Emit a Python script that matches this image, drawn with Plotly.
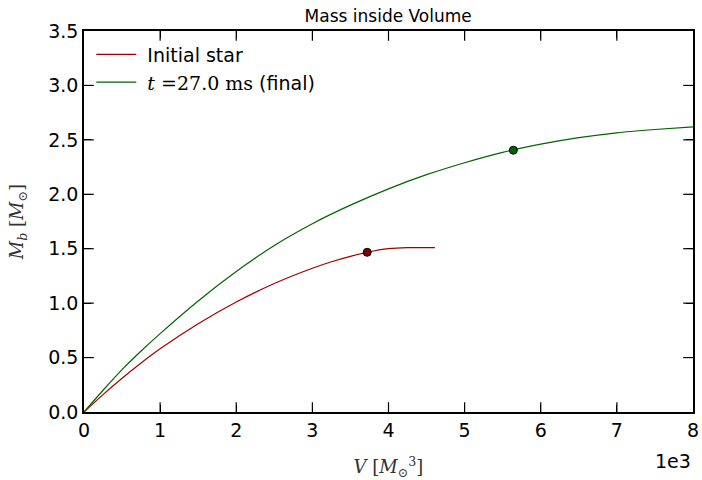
import plotly.graph_objects as go

# Data (V in units of 1e3 M_sun^3, M_b in M_sun)
green_x = [0, 0.25, 0.5, 0.75, 1.0, 1.5, 2.0, 2.5, 3.0, 3.5, 4.0, 4.5, 5.0, 5.5, 6.0, 6.5, 7.0, 7.5, 8.0]
green_y = [0, 0.20, 0.39, 0.56, 0.72, 1.02, 1.29, 1.53, 1.73, 1.90, 2.05, 2.18, 2.29, 2.385, 2.46, 2.52, 2.565, 2.595, 2.62]
red_x = [0, 0.25, 0.5, 0.75, 1.0, 1.5, 2.0, 2.5, 3.0, 3.25, 3.5, 3.72, 4.0, 4.25, 4.61]
red_y = [0, 0.16, 0.31, 0.45, 0.58, 0.81, 1.01, 1.18, 1.32, 1.38, 1.43, 1.467, 1.50, 1.51, 1.51]
red_marker = (3.72, 1.467)
green_marker = (5.64, 2.405)
x_ticks = [0, 1, 2, 3, 4, 5, 6, 7, 8]
y_ticks = [0.0, 0.5, 1.0, 1.5, 2.0, 2.5, 3.0, 3.5]
x_range = [0, 8]
y_range = [0, 3.5]

SERIF = "DejaVu Serif"
SANS = "DejaVu Sans"

fig = go.Figure()
fig.add_trace(go.Scatter(x=red_x, y=red_y, mode="lines",
                         line=dict(color="#a00000", width=1.2, shape="spline", smoothing=0.7),
                         name="\u00a0Initial star"))
fig.add_trace(go.Scatter(x=green_x, y=green_y, mode="lines",
                         line=dict(color="#006400", width=1.2, shape="spline", smoothing=0.7),
                         name='\u00a0<span style="font-family:DejaVu Serif"><i>t</i> =27.0 ms</span> (final)'))
fig.add_trace(go.Scatter(x=[red_marker[0]], y=[red_marker[1]], mode="markers", showlegend=False,
                         marker=dict(color="#800000", size=8, line=dict(color="black", width=1))))
fig.add_trace(go.Scatter(x=[green_marker[0]], y=[green_marker[1]], mode="markers", showlegend=False,
                         marker=dict(color="#006400", size=8, line=dict(color="black", width=1))))

# Inside tick marks on all four sides (clipped to the plot area, so only the inner half shows)
inner_x = x_ticks[1:-1]
inner_y = y_ticks[1:-1]
fig.add_trace(go.Scatter(x=inner_x + inner_x, y=[y_range[0]] * len(inner_x) + [y_range[1]] * len(inner_x),
                         mode="markers", showlegend=False, hoverinfo="skip", cliponaxis=True,
                         marker=dict(symbol="line-ns", size=14, line=dict(color="black", width=1.2))))
fig.add_trace(go.Scatter(x=[x_range[0]] * len(inner_y) + [x_range[1]] * len(inner_y), y=inner_y + inner_y,
                         mode="markers", showlegend=False, hoverinfo="skip", cliponaxis=True,
                         marker=dict(symbol="line-ew", size=14, line=dict(color="black", width=1.2))))

fig.update_layout(
    width=702, height=480,
    margin=dict(l=84, r=9, t=31, b=68),
    plot_bgcolor="white", paper_bgcolor="white",
    title=dict(text="Mass inside Volume", x=0.553, xanchor="center", y=0.967, yanchor="middle",
               font=dict(family=SANS, size=17, color="black")),
    legend=dict(x=0.012, y=0.988, xanchor="left", yanchor="top", bgcolor="rgba(0,0,0,0)",
                font=dict(family=SANS, size=19, color="black"), tracegroupgap=0, itemwidth=40),
    showlegend=True,
)
fig.update_xaxes(range=x_range, tickvals=x_ticks, tickformat="d", ticks="inside", ticklen=7, tickwidth=1.2,
                 tickcolor="black", showline=True, linecolor="black", linewidth=1.5, mirror="allticks",
                 showgrid=False, zeroline=False, automargin=False,
                 tickfont=dict(family=SANS, size=19, color="black"),
                 title=dict(text="<i>V</i> [<i>M</i><sub>⊙</sub><sup>3</sup>]", standoff=22,
                            font=dict(family=SERIF, size=18, color="#333")))
fig.update_yaxes(range=y_range, tickvals=y_ticks, tickformat=".1f", ticks="inside", ticklen=7, tickwidth=1.2,
                 tickcolor="black", showline=True, linecolor="black", linewidth=1.5, mirror="allticks",
                 showgrid=False, zeroline=False, automargin=False,
                 tickfont=dict(family=SANS, size=19, color="black"),
                 title=dict(text="<i>M</i><sub><i>b</i></sub> [<i>M</i><sub>⊙</sub>]", standoff=20,
                            font=dict(family=SERIF, size=18, color="#333")))
fig.add_annotation(text="1e3", x=1, y=0, xref="paper", yref="paper", xanchor="right", yanchor="top",
                   yshift=-36, showarrow=False, font=dict(family=SANS, size=19, color="black"))

fig.write_html("out.html")
